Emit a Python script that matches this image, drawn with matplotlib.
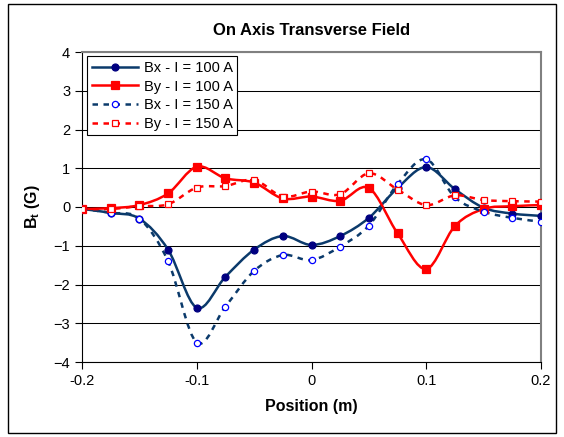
import numpy as np
import matplotlib.pyplot as plt
from matplotlib.path import Path
from matplotlib.patches import PathPatch, Rectangle
from matplotlib.lines import Line2D

plt.rcParams['font.family'] = ['Liberation Sans', 'DejaVu Sans']
plt.rcParams['mathtext.fontset'] = 'custom'
plt.rcParams['mathtext.rm'] = 'Liberation Sans'
plt.rcParams['mathtext.bf'] = 'Liberation Sans:bold'

# positions along the axis (m)
position = [-0.2, -0.175, -0.15, -0.125, -0.1, -0.075, -0.05, -0.025, 0.0,
            0.025, 0.05, 0.075, 0.1, 0.125, 0.15, 0.175, 0.2]

# transverse field components (G)
bx_100 = [-0.05, -0.15, -0.3, -1.1, -2.6, -1.8, -1.1, -0.75, -0.98,
          -0.75, -0.28, 0.49, 1.03, 0.46, -0.02, -0.17, -0.23]
by_100 = [-0.05, -0.03, 0.05, 0.35, 1.04, 0.74, 0.63, 0.22, 0.27,
          0.16, 0.49, -0.68, -1.6, -0.49, -0.05, 0.02, 0.05]
bx_150 = [-0.05, -0.15, -0.3, -1.4, -3.5, -2.57, -1.65, -1.24, -1.37,
          -1.02, -0.48, 0.59, 1.23, 0.25, -0.12, -0.28, -0.38]
by_150 = [-0.05, -0.05, 0.02, 0.07, 0.5, 0.54, 0.7, 0.27, 0.4,
          0.33, 0.87, 0.45, 0.05, 0.3, 0.18, 0.15, 0.14]

series_labels = ['Bx - I = 100 A', 'By - I = 100 A', 'Bx - I = 150 A', 'By - I = 150 A']
x_ticks = [-0.2, -0.1, 0.0, 0.1, 0.2]
x_tick_labels = ['-0.2', '-0.1', '0', '0.1', '0.2']
y_ticks = [-4, -3, -2, -1, 0, 1, 2, 3, 4]


def smooth_path(x, y):
    """Excel-like smoothed line as cubic Bezier segments through the points."""
    pts = np.column_stack([x, y])
    verts = [pts[0]]
    codes = [Path.MOVETO]
    n = len(pts)
    for i in range(n - 1):
        p0 = pts[i - 1] if i > 0 else pts[i]
        p1 = pts[i]
        p2 = pts[i + 1]
        p3 = pts[i + 2] if i + 2 < n else pts[i + 1]
        c1 = p1 + (p2 - p0) / 6.0
        c2 = p2 - (p3 - p1) / 6.0
        verts += [c1, c2, p2]
        codes += [Path.CURVE4] * 3
    return Path(verts, codes)


navy_line = '#0b3a6b'
navy_mark = '#000080'
red = '#ff0000'

fig = plt.figure(figsize=(5.64, 4.37), dpi=100)
ax = fig.add_axes([82 / 564, 1 - 362 / 437, 459 / 564, 310 / 437])

styles = [
    (bx_100, navy_line, '-', 'o', navy_mark, navy_mark, 5),
    (by_100, red, '-', 's', red, red, 5.5),
    (bx_150, navy_line, (0, (2.2, 2.2)), 'o', 'white', 'blue', 4.5),
    (by_150, red, (0, (2.2, 2.2)), 's', 'white', red, 5),
]

handles = []
for (vals, lc, ls, mk, mfc, mec, ms), lab in zip(styles, series_labels):
    patch = PathPatch(smooth_path(position, vals), facecolor='none', edgecolor=lc,
                      lw=1.8, linestyle=ls, zorder=3, capstyle='butt')
    ax.add_patch(patch)
    ax.plot(position, vals, linestyle='none', marker=mk, mfc=mfc, mec=mec,
            ms=ms, mew=0.9, zorder=4)
    handles.append(Line2D([], [], color=lc, lw=1.8, linestyle=ls, marker=mk,
                          mfc=mfc, mec=mec, ms=ms, mew=0.9, label=lab))

ax.set_xlim(-0.2, 0.2)
ax.set_ylim(-4, 4)
ax.set_xticks(x_ticks)
ax.set_xticklabels(x_tick_labels)
ax.set_yticks(y_ticks)
ax.yaxis.grid(True, color='black', lw=0.75)
ax.set_axisbelow(True)
ax.tick_params(direction='out', length=5, width=0.8, labelsize=10.5, colors='black')
for side in ['top', 'right']:
    ax.spines[side].set_color('#808080')
    ax.spines[side].set_linewidth(1.5)
for side in ['left', 'bottom']:
    ax.spines[side].set_color('black')
    ax.spines[side].set_linewidth(0.8)

ax.set_title('On Axis Transverse Field', fontsize=12, fontweight='bold', pad=12)
ax.set_xlabel('Position (m)', fontsize=11.5, fontweight='bold', labelpad=8)
ax.set_ylabel(r'$\mathbf{B_t}$ (G)', fontsize=11.5, fontweight='bold', labelpad=8)

leg = ax.legend(handles=handles, loc='upper left', bbox_to_anchor=(0.005, 0.995),
                fontsize=10.5, frameon=True, fancybox=False, framealpha=1,
                edgecolor='black', handlelength=3.2, handletextpad=0.4,
                borderpad=0.3, labelspacing=0.32, borderaxespad=0.2)
leg.get_frame().set_linewidth(0.8)

fig.patches.append(Rectangle((8 / 564, 4 / 437), 548 / 564, 429 / 437,
                             transform=fig.transFigure, fill=False,
                             edgecolor='black', lw=1))

fig.savefig('out.png', dpi=100)
